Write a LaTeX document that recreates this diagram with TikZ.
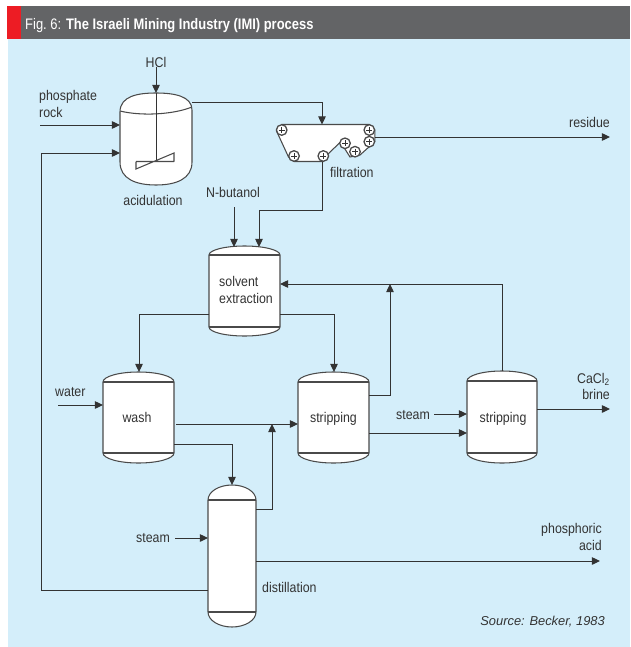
\documentclass[tikz,border=0pt]{standalone}
\usepackage{fontspec}
\setmainfont{Liberation Sans}
\newfontfamily\labfont[FakeStretch=0.88]{Liberation Sans}
\newfontfamily\headfont[FakeStretch=0.85]{Liberation Sans}
\usetikzlibrary{arrows.meta}
\definecolor{panel}{HTML}{D4EEFA}
\definecolor{bar}{HTML}{636466}
\definecolor{flag}{HTML}{ED1C24}
\definecolor{ink}{HTML}{333333}
\definecolor{shell}{HTML}{4A4A4A}

\begin{document}
\begin{tikzpicture}[x=0.03cm, y=-0.03cm,
    pipe/.style={draw=ink, line width=0.85pt},
    flow/.style={pipe, -{Triangle[length=7pt, width=6.5pt]}},
    tank/.style={draw=shell, fill=white, line width=0.9pt},
    roller/.style={draw=shell, fill=white, line width=1.1pt},
    lbl/.style={text=ink, inner sep=0pt, font=\labfont\fontsize{12}{14.2}\selectfont}]
    \useasboundingbox (0,0) rectangle (630,647);
    \fill[panel] (8,39) rectangle (630,647);
    \fill[bar] (7,6) rectangle (630,39);
    \fill[flag] (7,6) rectangle (21,39);
    \node[anchor=base west, inner sep=0pt, text=white, font=\headfont\fontsize{13}{15}\selectfont] (title) at (25,30) {Fig.~6: \textbf{The Israeli Mining Industry (IMI) process}};

    \filldraw[tank] (120,112) .. controls (120,96) and (138,93) .. (156,93) .. controls (174,93) and (192,96) .. (192,110) -- (192,162) .. controls (192,179) and (176,185) .. (156,185) .. controls (136,185) and (120,179) .. (120,162) -- cycle;
    \draw[tank] (120,111) .. controls (140,116) and (172,115) .. (192,107);
    \draw[pipe] (156,93) -- (156,161.5);
    \draw[tank] (136,161.5) -- (174,161.5) (136,161.5) -- (136,169) -- (174,153) -- (174,161.5);

    \foreach \cx/\hw/\t/\b/\d in {244.5/35.5/255/327/9, 138.5/35.5/382/453/10, 333.5/35.5/382/453/10, 502/35/381/453/10, 232/24/500/612/15}{
        \filldraw[tank] (\cx-\hw,\t) arc[start angle=180, end angle=360, x radius=\hw, y radius=\d] -- (\cx+\hw,\b) arc[start angle=0, end angle=180, x radius=\hw, y radius=\d] -- cycle;
        \draw[tank] (\cx-\hw,\t) -- (\cx+\hw,\t) (\cx-\hw,\b) -- (\cx+\hw,\b);
    }

    \filldraw[tank] (281.7,124.5) -- (369.3,124.5) -- (374.8,130) -- (374.8,141.7) -- (360,155) -- (350,157) -- (340.5,142) -- (328.5,153.5) -- (323.3,161.5) -- (294,161.5) -- (288.5,157) -- (276.5,131) -- cycle;
    \foreach \rx/\ry in {281.7/130, 294/156, 323.3/156, 345/143.3, 355/151.7, 369.3/130, 369.3/141.7}{
        \filldraw[roller] (\rx,\ry) circle[radius=5.3];
        \draw[pipe, line width=0.5pt] (\rx-3,\ry) -- (\rx+3,\ry) (\rx,\ry-3) -- (\rx,\ry+3);
    }

    \node[lbl, anchor=base] (hcl) at (156,67) {HCl};
    \node[lbl, anchor=north west, align=left] (rock) at (39,90) {phosphate\\rock};
    \node[lbl, anchor=base] (acidulation) at (153,205.6) {acidulation};
    \node[lbl, anchor=base west] (filtration) at (330,177) {filtration};
    \node[lbl, anchor=base east] (residue) at (610,127) {residue};
    \node[lbl, anchor=base] (nbutanol) at (233,197) {N-butanol};
    \node[lbl, anchor=north west, align=left] (extraction) at (219,276.2) {solvent\\extraction};
    \node[lbl, anchor=base west] (water) at (55,396) {water};
    \node[lbl, anchor=base] (wash) at (137,422.5) {wash};
    \node[lbl, anchor=base] (strip1) at (333.5,422.5) {stripping};
    \node[lbl, anchor=base] (strip2) at (503,422.5) {stripping};
    \node[lbl, anchor=base west] (steamtwo) at (396,419) {steam};
    \node[lbl, anchor=north east, align=right] (brine) at (610,372.7) {CaCl\textsubscript{2}\\brine};
    \node[lbl, anchor=base west] (steamone) at (136,542) {steam};
    \node[lbl, anchor=north east, align=right] (acid) at (602,523.5) {phosphoric\\acid};
    \node[lbl, anchor=base west] (distillation) at (262,592) {distillation};
    \node[anchor=base east, inner sep=0pt, text=ink, font=\fontsize{11}{13}\selectfont\itshape] (source) at (605,625) {Source: Becker, 1983};

    \coordinate (acid top) at (156,93);
    \coordinate (rock src) at (40,125);
    \coordinate (acid in1) at (120,125);
    \coordinate (acid in2) at (120,153);
    \coordinate (acid out) at (192,102);
    \coordinate (filt in) at (322,124.5);
    \coordinate (filt out) at (322,161.5);
    \coordinate (filt res) at (375,137);
    \coordinate (res end) at (610,137);
    \coordinate (nbut src) at (234,207);
    \coordinate (sx in1) at (234,247);
    \coordinate (sx in2) at (259,247);
    \coordinate (sx in3) at (280,284);
    \coordinate (sx out1) at (209,314);
    \coordinate (sx out2) at (280,314);
    \coordinate (wash top) at (139,372);
    \coordinate (st1 top) at (334,372);
    \coordinate (water src) at (58,405);
    \coordinate (wash in) at (103,405);
    \coordinate (wash out1) at (176,424);
    \coordinate (st1 in) at (298,424);
    \coordinate (wash out2) at (174,444);
    \coordinate (dist top) at (232,485);
    \coordinate (dist out1) at (256,509);
    \coordinate (join1) at (272,424);
    \coordinate (st1 out1) at (369,395);
    \coordinate (join2) at (390,284);
    \coordinate (st2 top) at (502.5,371);
    \coordinate (st1 out2) at (369,433);
    \coordinate (st2 in1) at (467,433);
    \coordinate (steam2 src) at (434,414);
    \coordinate (st2 in2) at (467,414);
    \coordinate (st2 out) at (537,409);
    \coordinate (brine end) at (610,409);
    \coordinate (steam1 src) at (175,538);
    \coordinate (dist in) at (208,538);
    \coordinate (dist out2) at (256,561);
    \coordinate (acid end) at (600,561);
    \coordinate (dist rec) at (208,590);

    \draw[flow] (hcl.south) -- (acid top);
    \draw[flow] (rock src) -- (acid in1);
    \draw[flow] (dist rec) -- ++(-167,0) |- (acid in2);
    \draw[flow] (acid out) -| (filt in);
    \draw[flow] (filt res) -- (res end);
    \draw[flow] (filt out) -- ++(0,48.5) -| (sx in2);
    \draw[flow] (nbut src) -- (sx in1);
    \draw[flow] (sx out1) -| (wash top);
    \draw[flow] (sx out2) -| (st1 top);
    \draw[flow] (water src) -- (wash in);
    \draw[flow] (wash out1) -- (st1 in);
    \draw[flow] (wash out2) -| (dist top);
    \draw[flow] (dist out1) -| (join1);
    \draw[flow] (st1 out1) -| (join2);
    \draw[flow] (st2 top) |- (sx in3);
    \draw[flow] (st1 out2) -- (st2 in1);
    \draw[flow] (steam2 src) -- (st2 in2);
    \draw[flow] (st2 out) -- (brine end);
    \draw[flow] (steam1 src) -- (dist in);
    \draw[flow] (dist out2) -- (acid end);
\end{tikzpicture}
\end{document}
